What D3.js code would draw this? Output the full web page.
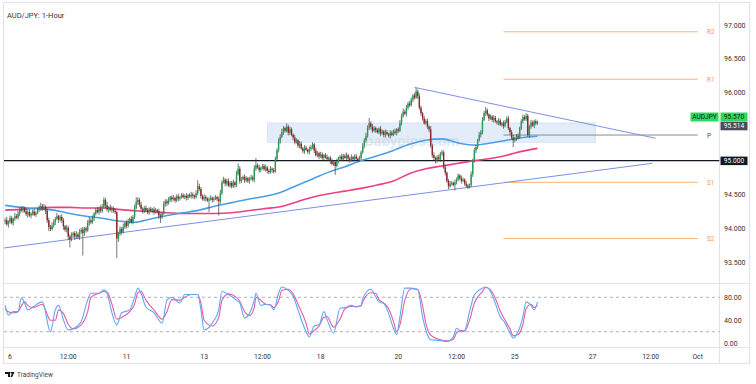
<!DOCTYPE html>
<html>
<head>
<meta charset="utf-8">
<script src="https://cdnjs.cloudflare.com/ajax/libs/d3/7.8.5/d3.min.js"></script>
<style>
  body { margin: 0; background: #fff; }
  svg { display: block; font-family: Roboto, "Liberation Sans", Arial, sans-serif; }
</style>
</head>
<body>
<svg id="chart" width="756" height="384"></svg>
<script>
// hourly bars, index 0 = "6" 00:00, first bar is index -3
const firstIndex = -3;
const firstOpen = 94.10;
const closes = [
  94.12, 94.06, 94.10, 94.15, 94.08, 94.14, 94.18, 94.16, 94.22, 94.28,
  94.27, 94.30, 94.25, 94.21, 94.24, 94.19, 94.22, 94.25, 94.20, 94.23,
  94.27, 94.30, 94.33, 94.29, 94.32, 94.26, 94.12, 94.02, 93.99, 94.04,
  94.09, 94.14, 94.18, 94.13, 94.17, 94.12, 94.03, 93.98, 94.01, 93.88,
  93.84, 93.90, 93.93, 93.88, 93.91, 93.87, 93.95, 93.98, 93.93, 94.00,
  93.97, 94.08, 94.12, 94.09, 94.15, 94.22, 94.27, 94.24, 94.29, 94.26,
  94.32, 94.42, 94.34, 94.28, 94.31, 94.27, 94.30, 94.26, 94.24, 93.85,
  93.92, 93.99, 93.95, 94.02, 94.08, 94.04, 94.11, 94.14, 94.09, 94.17,
  94.30, 94.39, 94.42, 94.35, 94.29, 94.26, 94.30, 94.27, 94.24, 94.29,
  94.26, 94.28, 94.24, 94.27, 94.25, 94.19, 94.17, 94.22, 94.36, 94.40,
  94.37, 94.42, 94.46, 94.43, 94.45, 94.41, 94.47, 94.44, 94.46, 94.49,
  94.46, 94.48, 94.45, 94.49, 94.47, 94.50, 94.48, 94.46, 94.52, 94.62,
  94.58, 94.48, 94.43, 94.46, 94.44, 94.41, 94.43, 94.45, 94.42, 94.44,
  94.46, 94.43, 94.40, 94.52, 94.68, 94.72, 94.66, 94.70, 94.63, 94.67,
  94.62, 94.68, 94.64, 94.80, 94.88, 94.70, 94.73, 94.76, 94.71, 94.74,
  94.70, 94.73, 94.75, 94.72, 94.88, 94.93, 94.90, 94.86, 94.89, 94.92,
  94.87, 94.90, 94.85, 94.83, 94.88, 94.86, 94.84, 95.02, 95.15, 95.28,
  95.35, 95.42, 95.48, 95.44, 95.50, 95.41, 95.46, 95.38, 95.34, 95.27,
  95.30, 95.22, 95.25, 95.18, 95.14, 95.19, 95.16, 95.13, 95.17, 95.20,
  95.24, 95.15, 95.08, 95.11, 95.06, 95.09, 95.04, 95.08, 95.05, 95.02,
  95.04, 94.99, 94.95, 94.98, 94.92, 94.99, 95.03, 95.06, 95.02, 95.07,
  95.04, 95.08, 95.03, 95.00, 95.05, 95.02, 95.06, 95.03, 95.01, 95.04,
  95.12, 95.22, 95.30, 95.36, 95.48, 95.55, 95.50, 95.44, 95.48, 95.45,
  95.42, 95.47, 95.40, 95.43, 95.38, 95.42, 95.39, 95.37, 95.41, 95.38,
  95.43, 95.41, 95.46, 95.44, 95.56, 95.66, 95.72, 95.69, 95.78, 95.84,
  95.82, 95.90, 95.96, 95.93, 96.02, 95.95, 95.78, 95.70, 95.62, 95.55,
  95.58, 95.50, 95.46, 95.22, 95.08, 95.04, 95.00, 95.05, 95.02, 95.10,
  95.12, 94.90, 94.82, 94.70, 94.62, 94.66, 94.67, 94.64, 94.68, 94.72,
  94.78, 94.74, 94.70, 94.72, 94.66, 94.63, 94.61, 94.64, 94.80, 95.00,
  95.15, 95.20, 95.30, 95.38, 95.42, 95.60, 95.70, 95.74, 95.68, 95.62,
  95.65, 95.60, 95.63, 95.58, 95.56, 95.59, 95.53, 95.55, 95.51, 95.57,
  95.62, 95.48, 95.42, 95.34, 95.30, 95.33, 95.36, 95.34, 95.48, 95.58,
  95.64, 95.61, 95.66, 95.38, 95.50, 95.56, 95.52, 95.58, 95.55, 95.57
];
// wick lengths beyond the body, in 0.01 yen
const upWick = [
  3,5,2,4,3,2,5,3,4,3,  4,3,2,5,3,4,2,3,4,2,  3,4,5,3,4,2,3,4,3,5,
  4,3,5,2,3,4,3,2,4,3,  3,4,2,3,5,3,4,3,4,2,  3,4,5,3,4,2,3,4,3,5,
  4,4,3,5,2,4,3,2,3,2,  3,4,3,5,2,4,3,2,4,3,  5,7,4,3,4,2,3,4,3,2,
  3,2,4,3,2,4,3,2,4,3,  3,4,2,3,4,2,3,4,2,3,  3,2,4,2,3,4,3,2,4,9,
  4,3,2,4,3,2,3,4,2,3,  3,2,4,5,3,4,2,3,4,3,  3,4,2,5,8,4,3,2,4,3,
  2,3,4,3,5,11,3,4,2,3, 3,4,2,3,4,2,3,4,3,5,  4,5,3,2,5,3,4,3,2,4,
  3,2,4,3,2,4,3,2,4,3,  3,2,4,3,2,4,3,2,3,4,  2,3,4,3,2,4,3,2,4,3,
  3,4,2,3,4,2,3,4,2,3,  3,4,3,5,4,8,3,4,3,2,  3,2,4,3,2,4,3,2,4,3,
  3,4,2,3,4,3,5,3,4,3,  4,3,2,4,5,3,4,3,2,4,  3,4,2,5,3,4,2,3,4,3,
  4,3,4,2,3,4,3,2,4,3,  3,2,4,3,2,4,3,2,4,3,  4,3,2,4,3,4,3,5,3,2,
  3,2,4,3,2,4,3,2,4,3,  3,4,2,3,4,2,3,4,2,3,  4,3,4,3,2,4,3,2,3,2
];
const downWick = [
  4,2,5,3,2,4,3,2,3,4,  3,4,2,3,5,2,4,3,2,3,  2,3,4,3,2,5,4,6,3,2,
  3,4,2,5,3,4,5,3,4,5,  12,3,4,5,3,2,4,3,33,4, 3,2,4,3,2,4,3,2,4,3,
  3,2,4,3,5,2,4,3,3,29, 5,3,4,2,3,4,3,4,2,3,  3,2,4,3,2,4,3,2,3,4,
  2,3,4,2,3,5,9,3,2,4,  4,2,3,4,2,3,2,4,3,2,  2,3,4,3,2,3,4,3,2,3,
  3,4,2,3,4,2,17,2,4,3, 2,3,21,4,3,2,4,3,2,3, 3,2,4,3,2,4,3,2,4,3,
  3,4,2,3,4,3,2,4,3,2,  2,3,4,3,2,4,3,2,4,3,  3,2,4,3,2,4,3,2,4,3,
  2,3,4,2,3,4,2,3,4,3,  3,4,2,3,4,2,3,4,2,3,  3,4,2,3,13,2,3,4,2,3,
  2,3,4,3,2,4,3,2,4,3,  3,2,4,3,2,3,4,3,2,4,  2,3,4,2,3,4,2,3,4,2,
  2,3,4,3,2,4,3,2,4,3,  3,2,4,3,2,4,3,4,3,2,  2,3,4,3,4,3,4,3,2,4,
  3,2,4,3,4,2,3,2,8,3,  2,3,4,2,3,3,3,2,3,4,  3,4,3,2,4,3,2,4,3,4,
  2,3,4,2,3,4,2,3,4,2,  2,3,4,3,10,3,4,3,2,3, 3,2,3,3,4,3,2,4,3,2
];

// moving averages, read every 10 bars
const maIndex = [-3,7,17,27,37,47,57,67,77,87,97,107,117,127,137,147,157,167,177,187,
  197,207,217,227,237,247,257,267,277,287,297,307,317,326];
const blueMA = [94.34,94.31,94.29,94.27,94.22,94.18,94.15,94.11,94.09,94.14,94.19,94.23,94.27,94.33,
  94.38,94.43,94.47,94.53,94.63,94.73,94.83,94.91,95.00,95.07,95.15,95.24,95.30,95.32,95.26,95.23,
  95.26,95.30,95.34,95.36];
const pinkMA = [94.27,94.28,94.30,94.31,94.31,94.30,94.30,94.28,94.26,94.25,94.23,94.22,94.22,94.22,
  94.23,94.26,94.29,94.32,94.39,94.46,94.51,94.55,94.59,94.64,94.70,94.81,94.88,94.92,94.96,95.00,
  95.03,95.08,95.14,95.18];

// stochastic RSI pane
const stochIndex = [-3,-1,2,5,7,9,11,14,20,25, 28,30,33,36,39,44,48,50,55,58,
  60,63,66,69,74,77,79,81,84,89, 94,97,100,105,108,112,116,118,120,125,
  129,131,135,140,142,145,148,151,152,155, 158,161,163,166,168,172,175,178,183,185,
  188,191,194,196,200,204,207,211,214,217, 218,223,226,228,231,234,237,239,241,244,
  248,252,255,257,260,265,270,274,276,279, 281,284,287,292,294,297,300,303,306,309,
  311,314,317,319,322,324,326];
const stochK = [66,49,55,55,79,70,58,63,72,20, 58,66,41,23,25,38,75,87,87,93,
  87,53,32,53,58,80,96,87,63,53, 35,75,80,70,85,85,85,58,23,35,
  58,90,85,75,70,44,52,75,87,66, 68,66,58,87,98,92,82,58,20,11,
  30,32,55,41,18,61,62,66,63,66, 78,94,81,72,69,52,26,15,46,96,
  96,93,46,23,6,5,3,11,26,20, 22,55,84,96,98,90,69,46,35,18,
  9,20,46,72,66,58,72];
const stochD = [60,55,53,55,65,72,66,62,68,40, 40,58,52,33,25,32,55,80,87,90,
  89,68,42,45,55,68,88,90,75,58, 42,55,76,75,80,85,85,70,40,30,
  45,75,86,80,73,55,48,63,80,75, 68,67,62,74,92,94,86,68,35,16,
  22,30,45,46,28,42,60,64,64,65, 72,88,87,76,70,60,38,20,32,75,
  95,94,65,35,14,7,4,7,18,22, 21,40,70,90,97,93,78,56,40,25,
  13,15,33,60,68,62,66];

const priceTicks = [93.5, 94.0, 94.5, 96.0, 96.5, 97.0];
const stochTicks = [0, 40, 80];
const stochBands = [80, 20];
const timeTickIndex = [0, 36, 72, 120, 156, 192, 240, 276, 312, 360, 396, 425];
const timeTickLabel = ["6", "12:00", "11", "13", "12:00", "18", "20", "12:00", "25", "27", "12:00", "Oct"];

const pivotNames = ["R2", "R1", "P", "S1", "S2"];
const pivotValues = [96.90, 96.20, 95.377, 94.68, 93.85];
const pivotSpan = [305, 425];
const keyLevel = 95.0;
const lastPrice = 95.570;
const markPrice = 95.514;
const upperTrend = [[250, 96.08], [399, 95.33]];
const lowerTrend = [[-4, 93.71], [397, 94.96]];
const zoneSpan = [159, 362];
const zonePrices = [95.27, 95.555];

const svg = d3.select("#chart");
const W = 756;

const x = d3.scaleLinear().domain([0, 360]).range([10, 10 + 360 * 1.618]);
const y = d3.scaleLinear().domain([93.5, 97]).range([262.3, 25]);
const ys = d3.scaleLinear().domain([0, 80]).range([343.2, 297.3]);

const paneRight = 719.5;
const mainBottom = 283.5;
const stochBottom = 347.5;

// frame
svg.append("rect").attr("x", 3.5).attr("y", 2.5).attr("width", 746).attr("height", 361)
  .attr("fill", "#fff").attr("stroke", "#e0e3eb");
svg.append("line").attr("x1", paneRight).attr("x2", paneRight).attr("y1", 2.5).attr("y2", 363.5)
  .attr("stroke", "#e0e3eb");
svg.append("line").attr("x1", 3.5).attr("x2", 749.5).attr("y1", mainBottom).attr("y2", mainBottom)
  .attr("stroke", "#e0e3eb");
svg.append("line").attr("x1", 3.5).attr("x2", 749.5).attr("y1", stochBottom).attr("y2", stochBottom)
  .attr("stroke", "#e0e3eb");

svg.append("clipPath").attr("id", "mainClip").append("rect")
  .attr("x", 4).attr("y", 3).attr("width", paneRight - 4).attr("height", mainBottom - 3);
const main = svg.append("g").attr("clip-path", "url(#mainClip)");

// zone box
main.append("rect")
  .attr("x", x(zoneSpan[0])).attr("width", x(zoneSpan[1]) - x(zoneSpan[0]))
  .attr("y", y(zonePrices[1])).attr("height", y(zonePrices[0]) - y(zonePrices[1]))
  .attr("fill", "#dce8f7").attr("fill-opacity", 0.8).attr("stroke", "#c9dcf2").attr("stroke-width", 0.6);

// watermark
main.append("text").attr("x", 365).attr("y", 146).attr("font-size", 15).attr("font-weight", "bold")
  .attr("fill", "#c8d3e0").attr("fill-opacity", 0.5).text("babypips.com");

// pivot levels
pivotNames.forEach((name, k) => {
  const isP = name === "P";
  main.append("line")
    .attr("x1", x(pivotSpan[0])).attr("x2", x(pivotSpan[1]))
    .attr("y1", y(pivotValues[k])).attr("y2", y(pivotValues[k]))
    .attr("stroke", isP ? "#8c8c8c" : "#f6b26b").attr("stroke-width", 1);
  svg.append("text").attr("x", 707).attr("y", y(pivotValues[k]) + 2.5)
    .attr("font-size", 6.5).attr("fill", isP ? "#555" : "#f0a050").text(name);
});

// trend lines
[upperTrend, lowerTrend].forEach(t => {
  main.append("line")
    .attr("x1", x(t[0][0])).attr("y1", y(t[0][1]))
    .attr("x2", x(t[1][0])).attr("y2", y(t[1][1]))
    .attr("stroke", "#7d8fe6").attr("stroke-width", 1);
});

// key level
main.append("line").attr("x1", 0).attr("x2", paneRight).attr("y1", y(keyLevel)).attr("y2", y(keyLevel))
  .attr("stroke", "#131722").attr("stroke-width", 1.2);

// moving averages
const maLine = (vals) => d3.line()
  .x((d, k) => x(maIndex[k])).y(d => y(d)).curve(d3.curveMonotoneX)(vals);
main.append("path").attr("d", maLine(pinkMA)).attr("fill", "none")
  .attr("stroke", "#ec3f84").attr("stroke-width", 1.6);
main.append("path").attr("d", maLine(blueMA)).attr("fill", "none")
  .attr("stroke", "#4a9fe8").attr("stroke-width", 1.6);

// candles
const candles = closes.map((c, k) => {
  const o = k === 0 ? firstOpen : closes[k - 1];
  return {
    i: firstIndex + k, o: o, c: c,
    h: Math.max(o, c) + upWick[k] / 100,
    l: Math.min(o, c) - downWick[k] / 100
  };
});
const cg = main.append("g");
cg.selectAll("line").data(candles).join("line")
  .attr("x1", d => x(d.i)).attr("x2", d => x(d.i))
  .attr("y1", d => y(d.h)).attr("y2", d => y(d.l))
  .attr("stroke", "#3b3b3b").attr("stroke-width", 0.7);
cg.selectAll("rect").data(candles).join("rect")
  .attr("x", d => x(d.i) - 0.7).attr("width", 1.4)
  .attr("y", d => y(Math.max(d.o, d.c)))
  .attr("height", d => Math.max(0.8, Math.abs(y(d.o) - y(d.c))))
  .attr("fill", d => d.c >= d.o ? "#22a052" : "#8e2424");

// price axis labels
svg.append("g").selectAll("text").data(priceTicks).join("text")
  .attr("x", 724).attr("y", d => y(d) + 2.5)
  .attr("font-size", 7).attr("fill", "#333").text(d => d.toFixed(3));

// axis badges
function badge(bx, by, w, h, fill, txt, color) {
  svg.append("rect").attr("x", bx).attr("y", by).attr("width", w).attr("height", h).attr("fill", fill);
  svg.append("text").attr("x", bx + w / 2).attr("y", by + h / 2 + 2.4).attr("text-anchor", "middle")
    .attr("font-size", 6.6).attr("fill", color).text(txt);
}
badge(690.5, 112.5, 28, 9, "#2bdc5a", "AUDJPY", "#1a1a1a");
badge(720.5, 112.5, 27, 9, "#2bdc5a", lastPrice.toFixed(3), "#1a1a1a");
badge(720.5, 121.8, 27, 8.5, "#4a4d55", markPrice.toFixed(3), "#fff");
badge(720.5, y(keyLevel) - 4, 27, 8.5, "#131722", keyLevel.toFixed(3), "#fff");

// title
svg.append("text").attr("x", 7).attr("y", 18).attr("font-size", 7.5).attr("fill", "#333")
  .text("AUD/JPY: 1-Hour");

// stochastic RSI pane
stochBands.forEach(v => {
  svg.append("line").attr("x1", 4).attr("x2", paneRight).attr("y1", ys(v)).attr("y2", ys(v))
    .attr("stroke", "#9a9da6").attr("stroke-width", 0.8).attr("stroke-dasharray", "3,3");
});
const stLine = (vals) => d3.line()
  .x((d, k) => x(stochIndex[k])).y(d => ys(d)).curve(d3.curveMonotoneX)(vals);
svg.append("path").attr("d", stLine(stochD)).attr("fill", "none")
  .attr("stroke", "#e45ba8").attr("stroke-width", 1.1);
svg.append("path").attr("d", stLine(stochK)).attr("fill", "none")
  .attr("stroke", "#62a8f2").attr("stroke-width", 1.1);
svg.append("g").selectAll("text").data(stochTicks).join("text")
  .attr("x", 724).attr("y", d => ys(d) + 2.5)
  .attr("font-size", 7).attr("fill", "#333").text(d => d.toFixed(2));

// time axis
svg.append("g").selectAll("text").data(timeTickIndex).join("text")
  .attr("x", d => x(d)).attr("y", 358.5).attr("text-anchor", "middle")
  .attr("font-size", 6.8).attr("fill", "#333").text((d, k) => timeTickLabel[k]);

// TradingView mark
const logo = svg.append("g").attr("transform", "translate(5,372)");
logo.append("path").attr("d", "M0,0 H5 V5 H3 V2 H0 Z").attr("fill", "#131722");
logo.append("path").attr("d", "M5.5,0 H9.5 L7.2,5 H5.4 L7,1.6 H5.5 Z").attr("fill", "#131722");
logo.append("text").attr("x", 12).attr("y", 5).attr("font-size", 6.5).attr("fill", "#444")
  .text("TradingView");
</script>
</body>
</html>
